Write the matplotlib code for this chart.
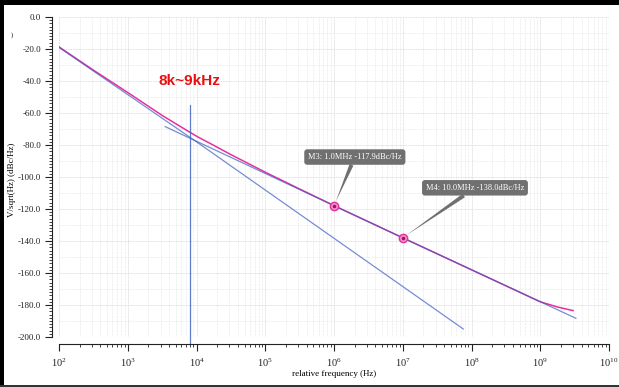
import matplotlib.pyplot as plt
from matplotlib.patches import Rectangle
from matplotlib.ticker import LogLocator, MultipleLocator
import numpy as np

# phase noise curve (dBc/Hz) against offset frequency
freq_total = [1e2, 3.16e2, 1e3, 3.16e3, 5.6e3, 1e4, 1.78e4, 3.16e4, 1e5, 3.16e5,
              1e6, 1e7, 1e8, 1e9, 1.8e9, 3.0e9]
pn_total = [-18.7, -33.2, -47.2, -61.5, -68.0, -74.5, -80.2, -86.0, -97.0, -107.5,
            -117.9, -138.0, -158.0, -178.0, -181.3, -183.5]

# 1/f^3 asymptote
freq_f3 = [1e2, 1e4, 7.6e7]
pn_f3 = [-19.0, -78.0, -195.0]

# 1/f^2 asymptote
freq_f2 = [3.5e3, 1e6, 1e7, 3.3e9]
pn_f2 = [-68.5, -117.9, -138.0, -188.3]

# corner frequency marker
corner_freq = 8e3
corner_top = -55.0

# markers M3 / M4
marker_names = ['M3', 'M4']
marker_freq = [1e6, 1e7]
marker_pn = [-117.9, -138.0]
marker_offsets = [(15, 35), (52, 36)]  # text offset, points

x_ticks = [1e2, 1e3, 1e4, 1e5, 1e6, 1e7, 1e8, 1e9, 1e10]
y_ticks = np.arange(-200, 1, 20)

pink = '#e8309c'
blue = '#3a5fc0'
serif = ['Liberation Serif', 'DejaVu Serif']

plt.rcParams['mathtext.fontset'] = 'stix'

fig = plt.figure(figsize=(6.19, 3.87), dpi=100)
ax = fig.add_axes([59 / 619, 50 / 387, 550 / 619, 320 / 387])

# pink underneath, blue on top half see-through so the overlap turns purple
ax.plot(freq_total, pn_total, color=pink, lw=1.1)
ax.plot(freq_f3, pn_f3, color=blue, lw=0.9, alpha=0.7)
ax.plot(freq_f2, pn_f2, color=blue, lw=0.9, alpha=0.7)

# vertical line at the corner, running down to the axis
ax.plot([corner_freq, corner_freq], [corner_top, -204], color=blue, lw=0.9, alpha=0.8,
        clip_on=False)
ax.text(corner_freq, -40, '8k~9kHz', color='#e81010', fontsize=11, fontweight='bold',
        family=['Liberation Sans', 'DejaVu Sans'], ha='center', va='center')

ax.plot(marker_freq, marker_pn, 'o', ms=6, mfc='#f090c8', mec=pink, mew=1.0)
ax.plot(marker_freq, marker_pn, '.', ms=3, color='#a0106a')
for name, f, v, off in zip(marker_names, marker_freq, marker_pn, marker_offsets):
    ax.annotate(f'{name}: {f / 1e6:.1f}MHz {v:.1f}dBc/Hz', xy=(f, v), xytext=off,
                textcoords='offset points', ha='center', va='center',
                fontsize=6, color='white', family=serif,
                bbox=dict(boxstyle='round,pad=0.45,rounding_size=0.35', fc='#707070', ec='none'),
                arrowprops=dict(arrowstyle='wedge,tail_width=0.5,shrink_factor=0.5',
                                fc='#707070', ec='none', shrinkA=0, shrinkB=3))

ax.set_xscale('log')
ax.set_xlim(1e2, 1e10)
ax.set_ylim(-200, 0)

ax.set_xticks(x_ticks)
ax.xaxis.set_minor_locator(LogLocator(base=10, subs=np.arange(2, 10), numticks=100))
ax.yaxis.set_minor_locator(MultipleLocator(2))
ax.set_yticks(y_ticks)
ax.set_yticklabels([f'{v:.1f}' for v in y_ticks])

for s in ['top', 'right']:
    ax.spines[s].set_visible(False)
ax.spines['left'].set_position(('outward', 5))
ax.spines['bottom'].set_position(('outward', 5))
for s in ['left', 'bottom']:
    ax.spines[s].set_linewidth(0.8)
    ax.spines[s].set_color('#222222')

ax.tick_params(which='major', direction='out', length=5, width=0.8, colors='#222222',
               labelsize=6.5, pad=3)
ax.tick_params(which='minor', direction='out', length=2.5, width=0.6, colors='#222222')
ax.tick_params(axis='x', which='major', labelsize=7.5, pad=4)
ax.tick_params(axis='x', which='minor', labelbottom=False)
for lab in ax.get_xticklabels() + ax.get_yticklabels():
    lab.set_family(serif)

# dotted grid; horizontal minor lines only every 10 dB
ax.grid(which='major', color='#d4d4d4', lw=0.6, ls=(0, (1, 1)))
ax.grid(which='minor', axis='x', color='#e2e2e2', lw=0.5, ls=(0, (1, 1)))
for yv in np.arange(-190, 0, 20):
    ax.axhline(yv, color='#e2e2e2', lw=0.5, ls=(0, (1, 1)), zorder=0)

ax.set_xlabel('relative frequency (Hz)', fontsize=6.5, family=serif, labelpad=1)
fig.text(12 / 619, 1 - 180 / 387, 'V/sqrt(Hz) (dBc/Hz)', rotation=90, fontsize=6.5,
         family=serif, ha='center', va='center')
fig.text(12 / 619, 1 - 35 / 387, ')', fontsize=5, family=serif, ha='center', va='center')

# frame round the picture
fig.patches.append(Rectangle((0, 1 - 5 / 387), 1, 5 / 387, transform=fig.transFigure,
                             fc='black', ec='none'))
fig.patches.append(Rectangle((0, 0), 4 / 619, 1, transform=fig.transFigure,
                             fc='black', ec='none'))
fig.patches.append(Rectangle((0, 0), 1, 2 / 387, transform=fig.transFigure,
                             fc='#333333', ec='none'))

fig.savefig('out.png', dpi=100)
